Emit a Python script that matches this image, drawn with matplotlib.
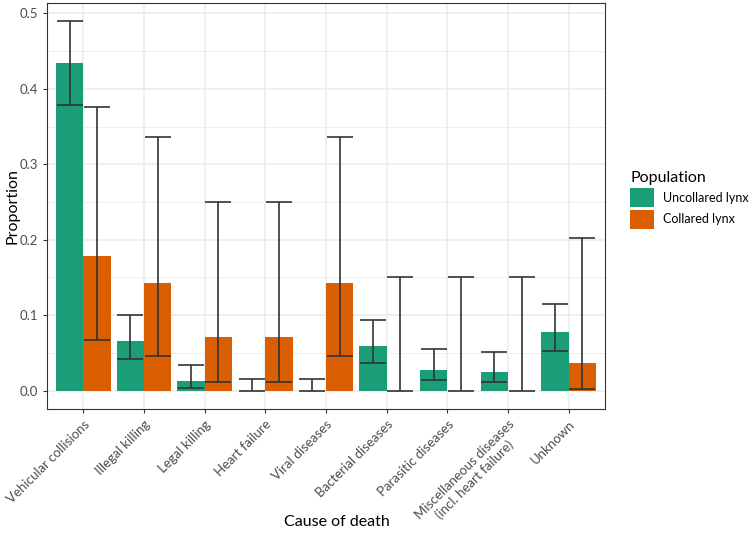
import numpy as np
import matplotlib.pyplot as plt
from matplotlib.patches import Patch

plt.rcParams['font.family'] = ['Lato', 'DejaVu Sans']

# --- data ---
causes = ["Vehicular collisions", "Illegal killing", "Legal killing", "Heart failure",
          "Viral diseases", "Bacterial diseases", "Parasitic diseases",
          "Miscellaneous diseases\n(incl. heart failure)", "Unknown"]

uncollared = [0.434, 0.066, 0.013, 0.0, 0.0, 0.059, 0.028, 0.025, 0.078]
uncollared_lo = [0.379, 0.042, 0.004, 0.0, 0.0, 0.037, 0.014, 0.012, 0.053]
uncollared_hi = [0.490, 0.100, 0.034, 0.015, 0.015, 0.093, 0.055, 0.051, 0.115]

collared = [0.178, 0.143, 0.071, 0.071, 0.143, 0.0, 0.0, 0.0, 0.036]
collared_lo = [0.067, 0.046, 0.012, 0.012, 0.046, 0.0, 0.0, 0.0, 0.002]
collared_hi = [0.376, 0.336, 0.250, 0.250, 0.336, 0.150, 0.150, 0.150, 0.202]

groups = ["Uncollared lynx", "Collared lynx"]
colors = ["#1B9E77", "#D95F02"]

fig = plt.figure(figsize=(7.54, 5.34), dpi=100)
ax = fig.add_axes([47 / 754, 1 - 409 / 534, (605 - 47) / 754, (409 - 3) / 534])

x = np.arange(len(causes))
w = 0.45
series = [(uncollared, uncollared_lo, uncollared_hi),
          (collared, collared_lo, collared_hi)]
for i, (vals, lo, hi) in enumerate(series):
    pos = x + (i - 0.5) * w
    vals = np.array(vals)
    ax.bar(pos, vals, width=w, color=colors[i], zorder=2)
    yerr = np.vstack([vals - np.array(lo), np.array(hi) - vals])
    ax.errorbar(pos, vals, yerr=yerr, fmt="none", ecolor="#333333",
                elinewidth=1.2, capsize=9.7, capthick=1.2, zorder=3)

ax.set_xlim(-0.6, 8.6)
ax.set_ylim(-0.0243, 0.5137)
ax.set_xticks(x)
ax.set_xticklabels(causes, rotation=45, ha="right", rotation_mode="anchor",
                   fontsize=9.5, color="#4D4D4D", multialignment="center")
ax.set_yticks([0.0, 0.1, 0.2, 0.3, 0.4, 0.5])
ax.set_yticklabels(["0.0", "0.1", "0.2", "0.3", "0.4", "0.5"], fontsize=9.5, color="#4D4D4D")
ax.set_yticks(np.arange(0.05, 0.5, 0.1), minor=True)
ax.tick_params(axis="both", which="major", length=3, color="#333333", width=0.8)
ax.tick_params(axis="y", which="minor", length=0)

ax.grid(True, which="major", color="#EBEBEB", linewidth=1.1, zorder=0)
ax.grid(True, which="minor", axis="y", color="#EBEBEB", linewidth=0.6, zorder=0)
ax.set_axisbelow(True)
for s in ax.spines.values():
    s.set_color("#333333")
    s.set_linewidth(0.8)

ax.set_xlabel("Cause of death", fontsize=11.5, va="center")
ax.xaxis.set_label_coords((337 - 47) / 558, (409 - 522) / 406)
ax.set_ylabel("Proportion", fontsize=11.5, va="center")
ax.yaxis.set_label_coords((12 - 47) / 558, 0.5)

handles = [Patch(facecolor=c, label=g) for c, g in zip(colors, groups)]
leg = fig.legend(handles=handles, title="Population", loc="upper left",
                 bbox_to_anchor=(619 / 754, 1 - 160 / 534), frameon=False,
                 fontsize=9, title_fontsize=11.5, handlelength=1.9,
                 handleheight=1.9, handletextpad=0.7, labelspacing=0.25)
leg._legend_box.align = "left"

fig.savefig("out.png", dpi=100)
